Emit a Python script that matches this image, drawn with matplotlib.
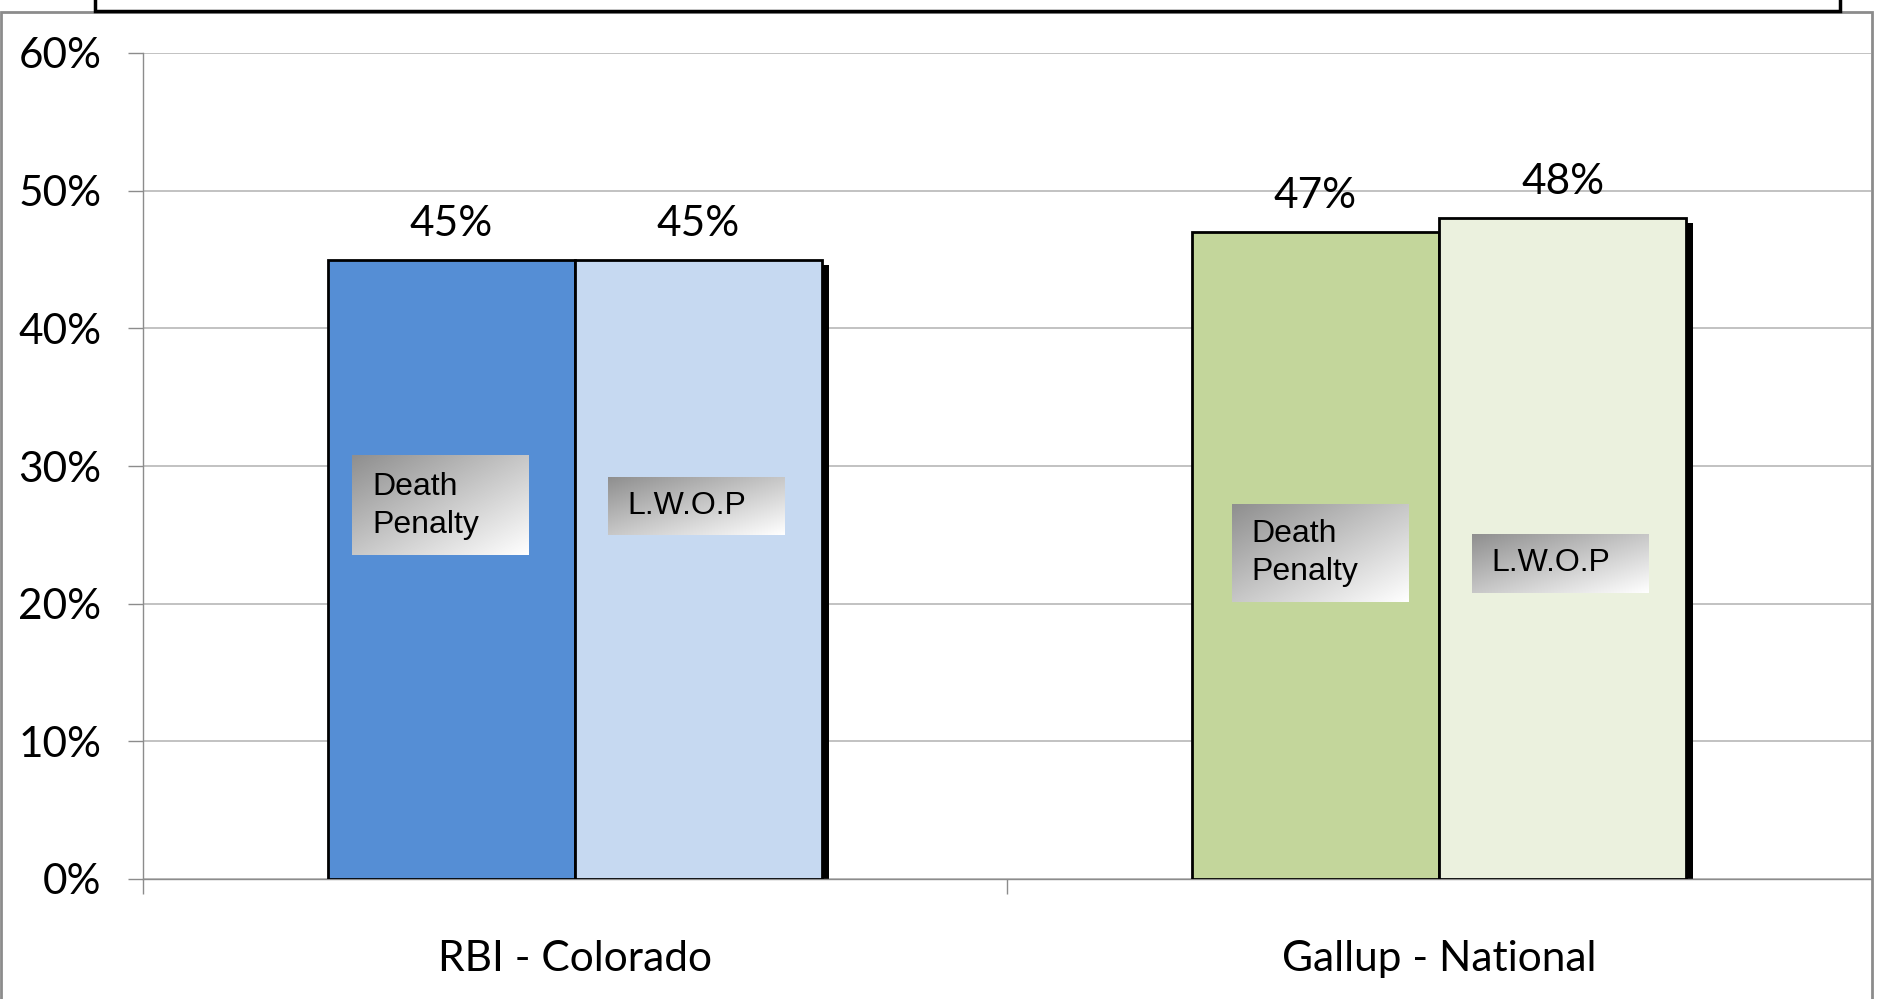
import numpy as np
import matplotlib
matplotlib.use("Agg")
import matplotlib.pyplot as plt
from matplotlib.patches import Rectangle
from matplotlib.transforms import ScaledTranslation
from matplotlib.colors import LinearSegmentedColormap

# ---- data ----
categories = ["RBI - Colorado", "Gallup - National"]
series_names = ["Death Penalty", "L.W.O.P"]
death_penalty = [45, 47]
lwop = [45, 48]
value_labels_dp = ["45%", "47%"]
value_labels_lw = ["45%", "48%"]
yticks = [0, 10, 20, 30, 40, 50, 60]
ytick_labels = ["0%", "10%", "20%", "30%", "40%", "50%", "60%"]
box_texts = [["Death\nPenalty", "L.W.O.P"], ["Death\nPenalty", "L.W.O.P"]]

# ---- styles / layout ----
bar_colors = [["#558ED5", "#C6D9F1"], ["#C3D69B", "#EBF1DE"]]
# label box extents (x0, x1, y0, y1) in data units, per category/series
box_layout = [[(-0.258, -0.054, 23.5, 30.7), (0.038, 0.242, 25.0, 29.2)],
              [(0.760, 0.964, 20.1, 27.2), (1.038, 1.242, 20.8, 25.05)]]

W, H, DPI = 1878, 999, 100
fig = plt.figure(figsize=(W / DPI, H / DPI), dpi=DPI)
fig.patch.set_facecolor("white")

main_font = "Lato"
FS = 30.5
ax = fig.add_axes([143 / W, 1 - 879 / H, (1871 - 143) / W, (879 - 53) / H])
ax.set_facecolor("white")

x = np.arange(len(categories))
bw = 0.286
shadow = ScaledTranslation(7 / DPI, -5 / DPI, fig.dpi_scale_trans)

for i, vals in enumerate([death_penalty, lwop]):
    offs = -bw / 2 if i == 0 else bw / 2
    sh = ax.bar(x + offs, vals, width=bw, color="black", edgecolor="none", zorder=2)
    for p in sh:
        p.set_transform(ax.transData + shadow)
for i, vals in enumerate([death_penalty, lwop]):
    offs = -bw / 2 if i == 0 else bw / 2
    cols = [bar_colors[c][i] for c in range(len(categories))]
    ax.bar(x + offs, vals, width=bw, color=cols, edgecolor="black", linewidth=2, zorder=3)
    labs = value_labels_dp if i == 0 else value_labels_lw
    for xi, v, lab in zip(x + offs, vals, labs):
        ax.annotate(lab, (xi, v), xytext=(0, 36 / DPI * 72), textcoords="offset points",
                    ha="center", va="center", fontsize=FS, family=main_font, zorder=5)

# gradient label boxes
g = np.linspace(0, 1, 100)
gx, gy = np.meshgrid(g, g)
grad = (gx + gy) / 2.0  # 0 top-left -> 1 bottom-right (origin upper)
cmap = LinearSegmentedColormap.from_list("gb", ["#8f8f8f", "#ffffff"])
for c in range(len(categories)):
    for s in range(len(series_names)):
        x0, x1, y0, y1 = box_layout[c][s]
        ax.imshow(grad, cmap=cmap, extent=(x0, x1, y0, y1), origin="upper",
                  aspect="auto", zorder=4, interpolation="bilinear")
        ax.text(x0 + 0.023, (y0 + y1) / 2, box_texts[c][s], ha="left", va="center",
                fontsize=23, family="Liberation Sans", zorder=6, linespacing=1.35)

ax.set_xlim(-0.5, 1.5)
ax.set_ylim(0, 60)
ax.set_yticks(yticks)
ax.set_yticklabels(ytick_labels, family=main_font, fontsize=FS)
ax.yaxis.grid(True, color="#b8b8b8", linewidth=1.2, zorder=0)
ax.set_axisbelow(True)
ax.tick_params(axis="y", length=11, width=1, color="#8c8c8c", pad=19)

ax.set_xticks(x)
ax.set_xticklabels(categories, family=main_font, fontsize=FS)
ax.set_xticks([-0.5, 0.5], minor=True)
ax.tick_params(axis="x", which="major", length=0, pad=44)
ax.tick_params(axis="x", which="minor", length=11, width=1, color="#8c8c8c")

for sp in ["top", "right"]:
    ax.spines[sp].set_visible(False)
ax.spines["left"].set_color("#8c8c8c")
ax.spines["bottom"].set_color("#8c8c8c")
ax.spines["left"].set_linewidth(1)
ax.spines["bottom"].set_linewidth(1)
ax.spines["left"].set_zorder(1)

# outer gray frame and top black box (figure coords in pixels)
def px(xp, yp):
    return xp / W, 1 - yp / H

fx, fy = px(1, 12)
fig.patches.append(Rectangle((fx, -0.1), (1872 - 1) / W, fy + 0.1, transform=fig.transFigure,
                             fill=False, edgecolor="#8c8c8c", linewidth=2, zorder=10))
tx, ty = px(95, 11)
fig.patches.append(Rectangle((tx, ty), (1840 - 95) / W, 0.2, transform=fig.transFigure,
                             facecolor="white", edgecolor="black", linewidth=2.5, zorder=11))

fig.savefig("out.png", dpi=DPI)
